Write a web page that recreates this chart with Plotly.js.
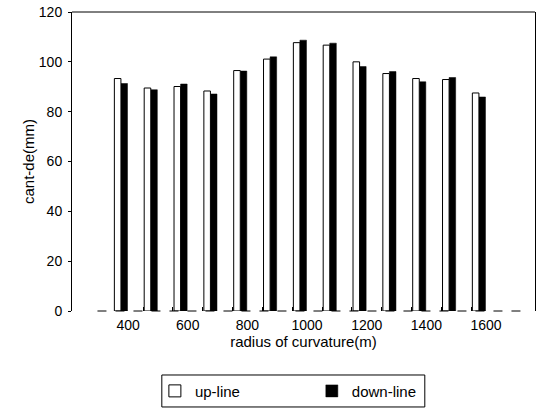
<!DOCTYPE html>
<html>
<head>
<meta charset="utf-8">
<script src="https://cdn.plot.ly/plotly-3.0.1.min.js"></script>
<style>html,body{margin:0;padding:0;background:#fff;}#chart{width:537px;height:420px;}</style>
</head>
<body>
<div id="chart"></div>
<script>
const radius = [400, 500, 600, 700, 800, 900, 1000, 1100, 1200, 1300, 1400, 1500, 1600];
const upLine = [93.3, 89.5, 90.1, 88.3, 96.5, 101.1, 107.7, 106.7, 100.0, 95.3, 93.3, 92.9, 87.5];
const downLine = [91.3, 88.8, 91.1, 87.1, 96.3, 102.0, 108.7, 107.5, 98.1, 96.1, 92.0, 93.7, 85.9];
const xTickVals = [400, 600, 800, 1000, 1200, 1400, 1600];
const xTickText = ['400', '600', '800', '1000', '1200', '1400', '1600'];
const xMinorTicks = [450, 550, 650, 750, 850, 950, 1050, 1150, 1250, 1350, 1450, 1550];
const yTickVals = [0, 20, 40, 60, 80, 100, 120];

const fam = 'Liberation Sans, Arial, sans-serif';
const tickFont = {family: fam, size: 14, color: '#000'};
const titleFont = {family: fam, size: 15, color: '#000'};
const legendFont = {family: fam, size: 15, color: '#000'};
const xRange = [212, 1764];

const traces = [
  {type: 'bar', name: 'up-line', x: radius, y: upLine, offset: -46, width: 22,
   xaxis: 'x2', yaxis: 'y',
   marker: {color: '#fff', line: {color: '#000', width: 1}}, legend: 'legend'},
  {type: 'bar', name: 'down-line', x: radius, y: downLine, offset: -24, width: 22,
   xaxis: 'x', yaxis: 'y',
   marker: {color: '#000', line: {color: '#000', width: 0.5}}, legend: 'legend2'}
];

const layout = {
  width: 537, height: 420,
  margin: {l: 72, r: 2, t: 12, b: 109},
  paper_bgcolor: '#fff', plot_bgcolor: '#fff',
  font: tickFont,
  barmode: 'overlay',
  showlegend: true,
  xaxis: {
    range: xRange, tickmode: 'array', tickvals: xMinorTicks,
    ticktext: xMinorTicks.map(() => ''),
    ticks: 'inside', ticklen: 4, tickcolor: '#000', tickwidth: 1,
    showgrid: false, zeroline: false, showline: false
  },
  xaxis2: {
    range: xRange, matches: 'x', overlaying: 'x', side: 'bottom', anchor: 'y',
    tickmode: 'array', tickvals: xTickVals, ticktext: xTickText,
    ticks: '', showgrid: false, zeroline: false, showline: false,
    tickfont: tickFont, ticklabelstandoff: 4,
    title: {text: 'radius of curvature(m)', font: titleFont, standoff: 4}
  },
  yaxis: {
    range: [0, 120], tickvals: yTickVals, ticks: 'outside', ticklen: 3,
    tickcolor: '#000', showgrid: false, zeroline: false,
    showline: true, linecolor: '#000', linewidth: 1, mirror: true,
    tickfont: tickFont, ticklabelstandoff: 3,
    title: {text: 'cant-de(mm)', font: titleFont, standoff: 0}
  },
  shapes: [
    {type: 'line', xref: 'paper', yref: 'paper', x0: 0, x1: 1, y0: 1, y1: 1,
     line: {color: '#000', width: 1}},
    {type: 'line', xref: 'paper', yref: 'paper', x0: 0.055, x1: 0.98, y0: 0, y1: 0,
     line: {color: '#000', width: 1, dash: 'dash'}},
    {type: 'rect', xref: 'paper', yref: 'paper', x0: 0.194, x1: 0.762, y0: -0.321, y1: -0.214,
     line: {color: '#000', width: 1}, fillcolor: 'rgba(0,0,0,0)'}
  ],
  legend: {
    orientation: 'h', x: 0.179, xanchor: 'left', y: -0.268, yanchor: 'middle',
    borderwidth: 0, bgcolor: 'rgba(0,0,0,0)', font: legendFont
  },
  legend2: {
    orientation: 'h', x: 0.518, xanchor: 'left', y: -0.268, yanchor: 'middle',
    borderwidth: 0, bgcolor: 'rgba(0,0,0,0)', font: legendFont
  }
};

Plotly.newPlot('chart', traces, layout, {staticPlot: true});
</script>
</body>
</html>
